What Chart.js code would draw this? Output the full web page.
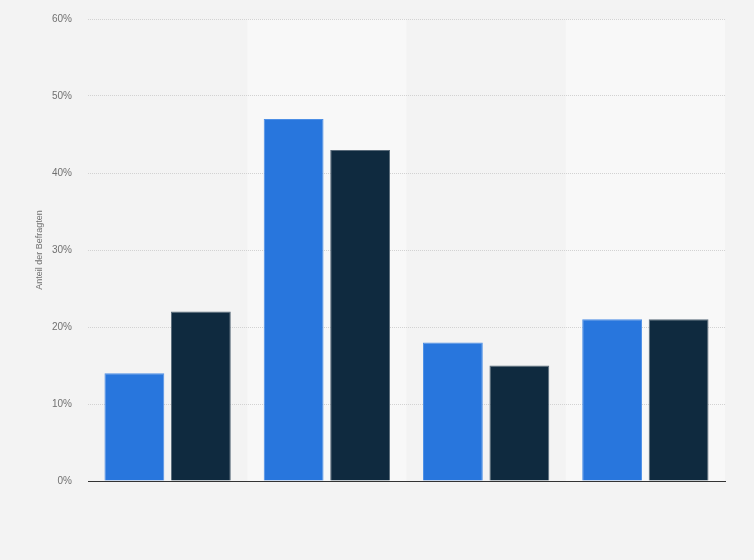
<!DOCTYPE html>
<html>
<head>
<meta charset="utf-8">
<script src="https://cdn.jsdelivr.net/npm/chart.js@4"></script>
<style>
html,body{margin:0;padding:0;background:#f3f3f3;}
#wrap{width:754px;height:560px;position:relative;}
</style>
</head>
<body>
<div id="wrap"><canvas id="c" width="754" height="560"></canvas></div>
<script>
const categories = ['Kategorie 1', 'Kategorie 2', 'Kategorie 3', 'Kategorie 4'];
const series1 = [14, 47, 18, 21];
const series2 = [22, 43, 15, 21];
const yTicks = [0, 10, 20, 30, 40, 50, 60];

const bgPlugin = {
  id: 'bg',
  beforeDraw(chart) {
    const {ctx, chartArea, scales} = chart;
    ctx.save();
    ctx.fillStyle = '#f3f3f3';
    ctx.fillRect(0, 0, chart.width, chart.height);
    const x = scales.x;
    const w = (chartArea.right - chartArea.left) / categories.length;
    categories.forEach((c, i) => {
      if (i % 2 === 1) {
        const cx = x.getPixelForValue(i);
        ctx.fillStyle = '#f8f8f8';
        ctx.fillRect(cx - w / 2, chartArea.top, w, chartArea.bottom - chartArea.top);
      }
    });
    ctx.restore();
  }
};

new Chart(document.getElementById('c'), {
  type: 'bar',
  data: {
    labels: categories,
    datasets: [
      {label: 'Serie 1', data: series1, backgroundColor: '#2876dd', borderColor: '#4d8fe6', borderWidth: 1, categoryPercentage: 0.835, barPercentage: 0.9},
      {label: 'Serie 2', data: series2, backgroundColor: '#0f2a3f', borderColor: '#5a6b7a', borderWidth: 1, categoryPercentage: 0.835, barPercentage: 0.9}
    ]
  },
  options: {
    responsive: false,
    animation: false,
    devicePixelRatio: 1,
    layout: {padding: {top: 19, right: 29, bottom: 79, left: 0}},
    plugins: {legend: {display: false}, tooltip: {enabled: false}},
    scales: {
      x: {
        grid: {display: false},
        ticks: {display: false},
        border: {display: true, color: '#333333', width: 1},
        afterFit(s) { s.height = 0; s.paddingLeft = 0; s.paddingRight = 0; }
      },
      y: {
        min: 0, max: 60,
        afterBuildTicks(s) { s.ticks = yTicks.map(v => ({value: v})); },
        ticks: {
          padding: 16,
          color: '#707070',
          font: {family: 'Liberation Sans, Arial, sans-serif', size: 10},
          callback: v => v + '%'
        },
        grid: {color: '#d2d2d2', lineWidth: 1, drawTicks: false},
        border: {display: false, dash: [1, 1]},
        title: {
          display: true,
          text: 'Anteil der Befragten',
          color: '#707070',
          font: {family: 'Liberation Sans, Arial, sans-serif', size: 9},
          padding: {top: 34, bottom: 0}
        },
        afterFit(s) { s.width = 88; s.paddingTop = 0; s.paddingBottom = 0; }
      }
    }
  },
  plugins: [bgPlugin]
});
</script>
</body>
</html>
